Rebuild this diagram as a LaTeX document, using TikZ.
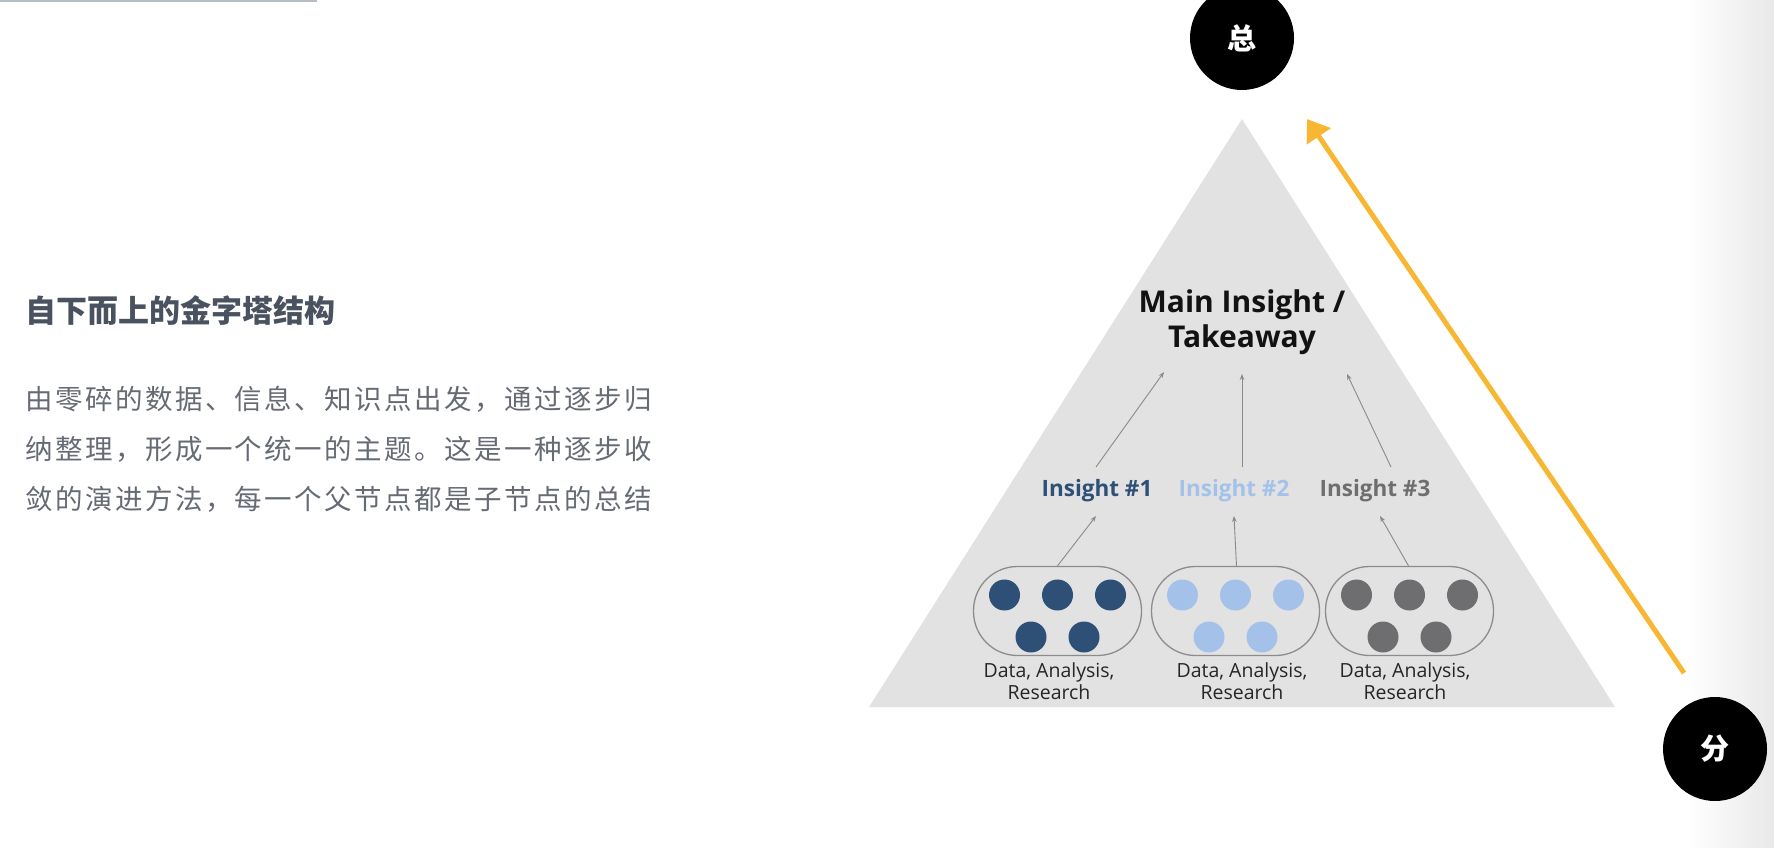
\documentclass[tikz,border=0pt]{standalone}
\usepackage{fontspec}
\setmainfont{Open Sans}
\newfontfamily\cjk{Noto Sans CJK SC}
\usetikzlibrary{arrows.meta}

\definecolor{rule}{HTML}{B7BDC6}
\definecolor{headc}{HTML}{4A5260}
\definecolor{bodyc}{HTML}{666B73}
\definecolor{pyr}{HTML}{E2E2E2}
\definecolor{amber}{HTML}{F7B733}
\definecolor{deepblue}{HTML}{2E5077}
\definecolor{paleblue}{HTML}{A4C2E9}
\definecolor{slate}{HTML}{6E6E70}
\definecolor{outline}{HTML}{8C8C8C}
\definecolor{thin}{HTML}{8A8A8A}

\tikzset{
  badge/.style={circle, fill=black, minimum size=104pt, inner sep=0pt,
    text=white, font=\cjk\bfseries\fontsize{29}{29}\selectfont},
  capsule/.style={draw=outline, line width=1.3pt, rounded corners=44pt,
    minimum width=168pt, minimum height=89pt, inner sep=0pt},
  dot/.style={circle, minimum size=31pt, inner sep=0pt},
  insight/.style={font=\bfseries\fontsize{22.5}{22.5}\selectfont, inner sep=0pt, anchor=base},
  datalabel/.style={font=\fontsize{19.5}{22}\selectfont, align=center, inner sep=0pt,
    text=black!85},
  linkarrow/.style={draw=thin, line width=0.9pt, -{Stealth[length=6pt,width=4.5pt]}},
  para/.style={font=\cjk\fontsize{27.5}{27.5}\selectfont\addfontfeature{LetterSpace=9},
    text=bodyc, anchor=base west, inner sep=0pt},
}

\begin{document}
\begin{tikzpicture}[x=1pt,y=-1pt]
\useasboundingbox (0,0) rectangle (1774,848);

% page edge shading on the right
\shade[left color=white, right color=black!9] (1688,0) rectangle (1774,848);

% short rule at the top left
\draw[rule, line width=2pt] (0,1) -- (317,1);

% heading and description
\node[font=\cjk\bfseries\fontsize{31}{31}\selectfont, text=headc, anchor=base west, inner sep=0pt]
  (title) at (25,322.5) {自下而上的金字塔结构};
\node[para] (p1) at (25,409) {由零碎的数据、信息、知识点出发，通过逐步归};
\node[para] (p2) at (25,459.5) {纳整理，形成一个统一的主题。这是一种逐步收};
\node[para] (p3) at (25,509.5) {敛的演进方法，每一个父节点都是子节点的总结};

% pyramid
\fill[pyr] (1242,119) -- (869,707) -- (1615,707) -- cycle;

\node[font=\bfseries\fontsize{30}{35}\selectfont, align=center, inner sep=0pt, text=black!93]
  (main) at (1242,322) {Main Insight /\\Takeaway};

\node[insight, text=deepblue] (i1) at (1097,496) {Insight \#1};
\node[insight, text=paleblue] (i2) at (1234,496) {Insight \#2};
\node[insight, text=slate]    (i3) at (1375,496) {Insight \#3};

% groups of evidence
\node[capsule] (b1) at (1057.5,611) {};
\node[capsule] (b2) at (1235.5,611) {};
\node[capsule] (b3) at (1409.5,611) {};

\foreach \b/\c in {b1/deepblue, b2/paleblue, b3/slate}{
  \foreach \dx in {-53,0,53}
    \node[dot, fill=\c] at ([xshift=\dx pt, yshift=16pt]\b.center) {};
  \foreach \dx in {-26.5,26.5}
    \node[dot, fill=\c] at ([xshift=\dx pt, yshift=-26pt]\b.center) {};
}

\node[datalabel] (d1) at (1049,681) {Data, Analysis,\\Research};
\node[datalabel] (d2) at (1242,681) {Data, Analysis,\\Research};
\node[datalabel] (d3) at (1405,681) {Data, Analysis,\\Research};

% links between levels
\coordinate (i1in) at (1096,516);
\coordinate (i2in) at (1234,516);
\coordinate (i3in) at (1380,516);
\coordinate (i1out) at (1096,467);
\coordinate (i2out) at (1242,467);
\coordinate (i3out) at (1391,467);
\coordinate (m1) at (1164,372);
\coordinate (m2) at (1242,374);
\coordinate (m3) at (1347,374);

\draw[linkarrow] (b1.north) -- (i1in);
\draw[linkarrow] ([xshift=1pt]b2.north) -- (i2in);
\draw[linkarrow] ([xshift=-1pt]b3.north) -- (i3in);
\draw[linkarrow] (i1out) -- (m1);
\draw[linkarrow] (i2out) -- (m2);
\draw[linkarrow] (i3out) -- (m3);

% badges and the rising arrow
\node[badge] (top) at (1242,38) {总};
\node[badge] (bottom) at (1715,749) {分};

\coordinate (rise0) at (1684,673);
\coordinate (rise1) at (1307,119);
\draw[amber, line width=5pt, -{Triangle[length=21pt,width=28pt]}] (rise0) -- (rise1);
\end{tikzpicture}
\end{document}
